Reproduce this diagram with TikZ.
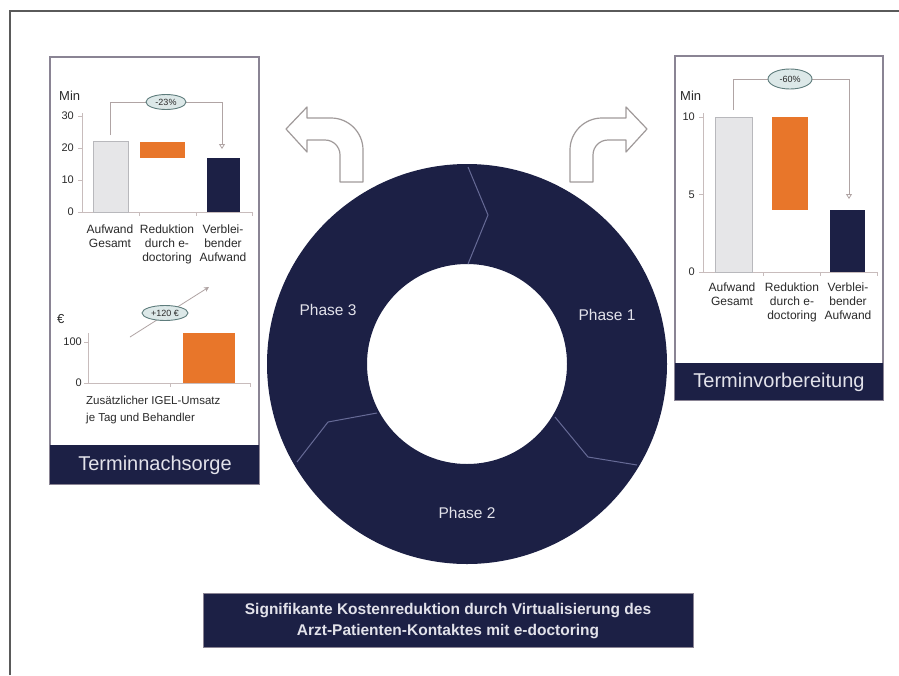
\documentclass[tikz,border=0pt]{standalone}
\usepackage{fontspec}
\setmainfont{Liberation Sans}
\usetikzlibrary{arrows.meta,shapes.geometric}
\definecolor{navy}{HTML}{1C2045}
\definecolor{ringline}{HTML}{666A96}
\definecolor{orangebar}{HTML}{E8762A}
\definecolor{graybar}{HTML}{E6E6E8}
\definecolor{grayedge}{HTML}{B8B8BC}
\definecolor{paneledge}{HTML}{8A8494}
\definecolor{axiscol}{HTML}{C8BCBC}
\definecolor{bracketcol}{HTML}{B0A4A4}
\definecolor{pillfill}{HTML}{DCE8E8}
\definecolor{pilledge}{HTML}{5E7C7C}
\definecolor{lighttext}{HTML}{E2E2EA}
\definecolor{darktext}{HTML}{2A2A2A}
\definecolor{framecol}{HTML}{5A5A5A}
\definecolor{arrowedge}{HTML}{A09A9A}
\tikzset{
  panel/.style={draw=paneledge, line width=1.5pt, fill=white},
  darkbar/.style={fill=navy},
  bartitle/.style={text=lighttext, inner sep=0pt, font=\fontsize{20}{22}\selectfont},
  axis/.style={draw=axiscol, line width=0.8pt},
  tick/.style={inner sep=0pt, text=darktext, font=\fontsize{11}{12}\selectfont, anchor=east},
  unitlbl/.style={inner sep=0pt, text=darktext, font=\fontsize{13}{14}\selectfont, anchor=west},
  catlbl/.style={inner sep=0pt, text=darktext, align=center, anchor=north, font=\fontsize{12}{14}\selectfont},
  gbar/.style={fill=graybar, draw=grayedge, line width=0.8pt},
  obar/.style={fill=orangebar},
  nbar/.style={fill=navy},
  bracket/.style={draw=bracketcol, line width=0.8pt},
  pill/.style={ellipse, draw=pilledge, fill=pillfill, line width=0.9pt, inner sep=1pt, minimum width=40pt, minimum height=15pt, text=darktext, font=\fontsize{9}{10}\selectfont},
  phase/.style={text=lighttext, inner sep=0pt, font=\fontsize{15.5}{17}\selectfont},
  turnarrow/.style={fill=white, draw=arrowedge, line width=1.2pt, line join=round},
}
\begin{document}
\begin{tikzpicture}[x=1pt,y=-1pt]
\useasboundingbox (0,0) rectangle (899,675);
\fill[white] (0,0) rectangle (899,675);
% outer frame
\draw[framecol, line width=1.5pt] (10,675) -- (10,11) -- (899,11);

% ===== ring =====
\coordinate (rc) at (467,364);
\fill[navy, even odd rule] (rc) circle[radius=200] (rc) circle[radius=100];
\draw[ringline, line width=1pt] (468,264) -- (488,215) -- (468,167);
\draw[ringline, line width=1pt] (377,413) -- (328,422) -- (297,462);
\draw[ringline, line width=1pt] (555,417) -- (588,457) -- (637,465);
\node[phase] (p3) at (328,310) {Phase 3};
\node[phase] (p1) at (607,315) {Phase 1};
\node[phase] (p2) at (467,513) {Phase 2};

% ===== turning arrows =====
\draw[turnarrow] (363,182) -- (363,150) .. controls (363,132.3) and (348.7,118) .. (331,118)
  -- (307,118) -- (307,107) -- (286,129) -- (307,152) -- (307,140) -- (325,140)
  .. controls (333.3,140) and (340,146.7) .. (340,155) -- (340,182) -- cycle;
\draw[turnarrow] (570,182) -- (570,150) .. controls (570,132.3) and (584.3,118) .. (602,118)
  -- (626,118) -- (626,107) -- (647,129) -- (626,152) -- (626,140) -- (608,140)
  .. controls (599.7,140) and (593,146.7) .. (593,155) -- (593,182) -- cycle;

% ===== left panel =====
\draw[panel] (50,57) rectangle (259,484);
\fill[darkbar] (50,445) rectangle (259,484);
\node[bartitle] (tn) at (155,465) {Terminnachsorge};

% chart 1 (Min)
\node[unitlbl] (min1) at (59,96) {Min};
\draw[axis] (82,113) -- (82,212) -- (252,212);
\foreach \v/\yy in {30/116,20/148,10/180,0/212}{
  \draw[axis] (78,\yy) -- (82,\yy);
  \node[tick] at (74,\yy) {\v};
}
\foreach \xx in {139,196,252}{\draw[axis] (\xx,212) -- (\xx,216);}
\draw[gbar] (93,141.6) rectangle (128,212);
\fill[obar] (140,141.6) rectangle (185,157.6);
\fill[nbar] (207,157.6) rectangle (240,212);
\coordinate (b1s) at (110,135);
\coordinate (b1a) at (110,102);
\coordinate (b1b) at (222,102);
\coordinate (b1e) at (222,149);
\draw[bracket, -{Triangle[open, length=5pt, width=6pt]}] (b1s) -- (b1a) -- (b1b) -- (b1e);
\node[pill] (pct1) at (166,102) {-23\%};
\node[catlbl] (c11) at (110,225) {Aufwand\\Gesamt};
\node[catlbl] (c12) at (167,225) {Reduktion\\durch e-\\doctoring};
\node[catlbl] (c13) at (223,225) {Verblei-\\bender\\Aufwand};

% chart 2 (Euro)
\node[unitlbl] (eur) at (57,319) {€};
\draw[axis] (88,333) -- (88,383) -- (250,383);
\draw[axis] (84,342) -- (88,342);
\draw[axis] (84,383) -- (88,383);
\node[tick] at (82,342) {100};
\node[tick] at (82,383) {0};
\draw[axis] (170,383) -- (170,387);
\draw[axis] (250,383) -- (250,387);
\fill[obar] (183,333) rectangle (235,383);
\coordinate (g2s) at (130,337);
\coordinate (g2e) at (209,287);
\draw[bracket, -{Stealth[length=5pt, width=5pt]}] (g2s) -- (g2e);
\node[pill, minimum width=46pt] (pct2) at (165,313) {+120 €};
\node[inner sep=0pt, text=darktext, align=left, anchor=north west, font=\fontsize{11.5}{17}\selectfont] (igel) at (86,396) {Zusätzlicher IGEL-Umsatz\\je Tag und Behandler};

% ===== right panel =====
\draw[panel] (675,56) rectangle (883,400);
\fill[darkbar] (675,363) rectangle (883,400);
\node[bartitle] (tv) at (779,382) {Terminvorbereitung};

\node[unitlbl] (min3) at (680,96) {Min};
\draw[axis] (703,113) -- (703,272) -- (877,272);
\foreach \v/\yy in {10/117,5/194.5,0/272}{
  \draw[axis] (699,\yy) -- (703,\yy);
  \node[tick] at (695,\yy) {\v};
}
\foreach \xx in {763,820,877}{\draw[axis] (\xx,272) -- (\xx,276);}
\draw[gbar] (715,117) rectangle (752,272);
\fill[obar] (772,117) rectangle (808,210);
\fill[nbar] (830,210) rectangle (865,272);
\coordinate (b3s) at (733,110);
\coordinate (b3a) at (733,79);
\coordinate (b3b) at (849,79);
\coordinate (b3e) at (849,199);
\draw[bracket, -{Triangle[open, length=5pt, width=6pt]}] (b3s) -- (b3a) -- (b3b) -- (b3e);
\node[pill, minimum width=44pt, minimum height=20pt] (pct3) at (790,79) {-60\%};
\node[catlbl] (c31) at (732,283) {Aufwand\\Gesamt};
\node[catlbl] (c32) at (792,283) {Reduktion\\durch e-\\doctoring};
\node[catlbl] (c33) at (848,283) {Verblei-\\bender\\Aufwand};

% ===== bottom box =====
\fill[navy] (203,593) rectangle (693,647);
\draw[paneledge, line width=0.6pt] (203,593) rectangle (693,647);
\node[inner sep=0pt, text=lighttext, align=center, font=\bfseries\fontsize{15.5}{21}\selectfont] (summary) at (448,621) {Signifikante Kostenreduktion durch Virtualisierung des\\Arzt-Patienten-Kontaktes mit e-doctoring};
\end{tikzpicture}
\end{document}
